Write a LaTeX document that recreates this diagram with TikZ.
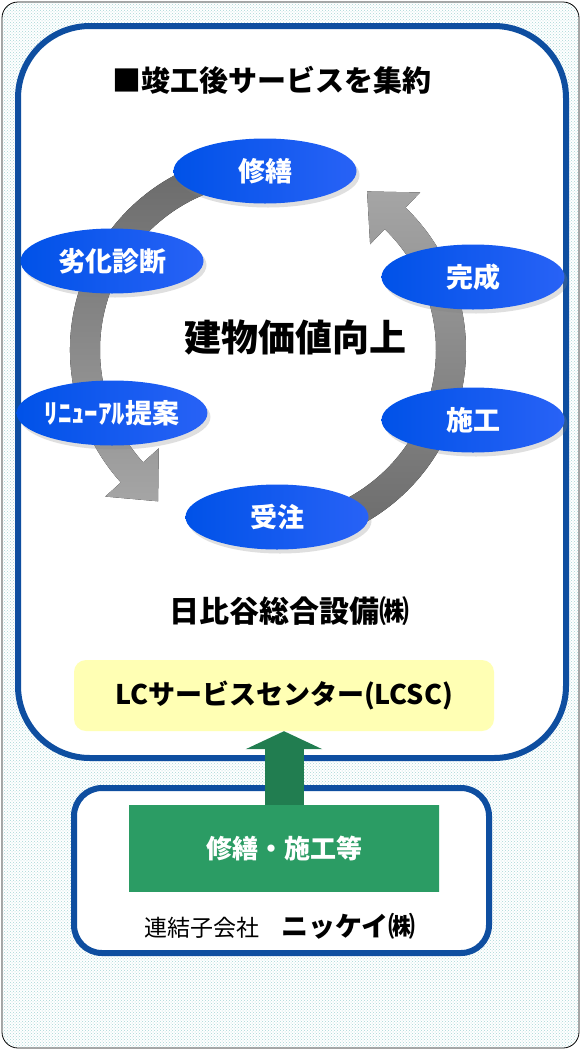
\documentclass[tikz,border=0pt]{standalone}
\usepackage{fontspec}
\setmainfont{Noto Sans CJK JP}
\usetikzlibrary{shapes.geometric}
\usetikzlibrary{arrows.meta}
\usetikzlibrary{patterns}
\usetikzlibrary{shadows}

\definecolor{frameblue}{RGB}{14,78,160}
\definecolor{stepblueL}{RGB}{0,82,232}
\definecolor{stepblueR}{RGB}{40,98,246}
\definecolor{lcyellow}{RGB}{255,255,180}
\definecolor{worksgreen}{RGB}{43,156,100}
\definecolor{worksdark}{RGB}{30,106,68}
\definecolor{liftgreen}{RGB}{33,125,80}
\definecolor{dotteal}{RGB}{168,214,214}
\definecolor{ringdark}{RGB}{105,105,105}
\definecolor{ringlight}{RGB}{165,165,165}

\tikzset{
   stepnode/.style={
      ellipse,
      minimum width=183pt,
      minimum height=65pt,
      inner sep=0pt,
      left color=stepblueL,
      right color=stepblueR,
      drop shadow={shadow xshift=3pt, shadow yshift=-4pt, opacity=0.25},
      text=white,
      font=\fontsize{27}{30}\selectfont\bfseries
   },
   headtext/.style={
      font=\fontsize{29}{32}\selectfont\bfseries
   },
   bluebox/.style={
      draw=frameblue,
      line width=6pt,
      fill=white
   }
}

\begin{document}
\begin{tikzpicture}[x=1pt, y=-1pt]
   \useasboundingbox (0,0) rectangle (581,1050);

   \draw[rounded corners=16pt, fill=white, line width=0.8pt] (2,2) rectangle (579,1048);
   \fill[rounded corners=16pt, pattern=crosshatch dots, pattern color=dotteal] (2.5,2.5) rectangle (578.5,1047.5);

   \draw[bluebox, rounded corners=72pt] (18,26) rectangle (566,758);
   \draw[bluebox, rounded corners=28pt] (74,788) rectangle (489,953);

   \node[headtext] (title) at (272,80) {■竣工後サービスを集約};

   \begin{scope}[shift={(268,350)}, yscale=-1]
      \fill[top color=ringlight, bottom color=ringdark]
         (-95:168) arc[start angle=-95, end angle=46, radius=168]
         -- (46:147) -- (58:187) -- (46:219) -- (46:198)
         arc[start angle=46, end angle=-95, radius=198] -- cycle;
      \fill[top color=ringdark, bottom color=ringlight]
         (100:198) arc[start angle=100, end angle=222, radius=198]
         -- (222:219) -- (234:187) -- (222:147) -- (222:168)
         arc[start angle=222, end angle=100, radius=168] -- cycle;
   \end{scope}

   \node[font=\fontsize{37}{40}\selectfont\bfseries] (value) at (295,338) {建物価値向上};

   \node[stepnode] (repair) at (265,171) {修繕};
   \node[stepnode] (diagnosis) at (112,261) {劣化診断};
   \node[stepnode] (renewal) at (112,413) {ﾘﾆｭｰｱﾙ提案};
   \node[stepnode] (order) at (277,517) {受注};
   \node[stepnode] (build) at (473,420) {施工};
   \node[stepnode] (complete) at (473,277) {完成};

   \node[headtext, font=\fontsize{30}{32}\selectfont\bfseries] (company) at (289,611) {日比谷総合設備㈱};

   \node[
      name=lcsc,
      fill=lcyellow,
      rounded corners=12pt,
      minimum width=420pt,
      minimum height=71pt,
      font=\fontsize{27}{30}\selectfont\bfseries
   ] at (284,695.5) {LCサービスセンター(LCSC)};

   \node[
      name=works,
      left color=worksgreen,
      middle color=worksdark,
      right color=worksgreen,
      minimum width=310pt,
      minimum height=86pt,
      text=white,
      font=\fontsize{26}{30}\selectfont\bfseries
   ] at (284,848) {修繕・施工等};

   \node (subsidiary) at (280,926)
      {{\fontsize{23}{26}\selectfont 連結子会社}\hspace{22pt}{\fontsize{27}{30}\selectfont\bfseries ニッケイ㈱}};

   \draw[liftgreen, line width=39pt, -{Triangle[width=76pt,length=18pt]}] (works.north) -- (lcsc.south);

\end{tikzpicture}
\end{document}
